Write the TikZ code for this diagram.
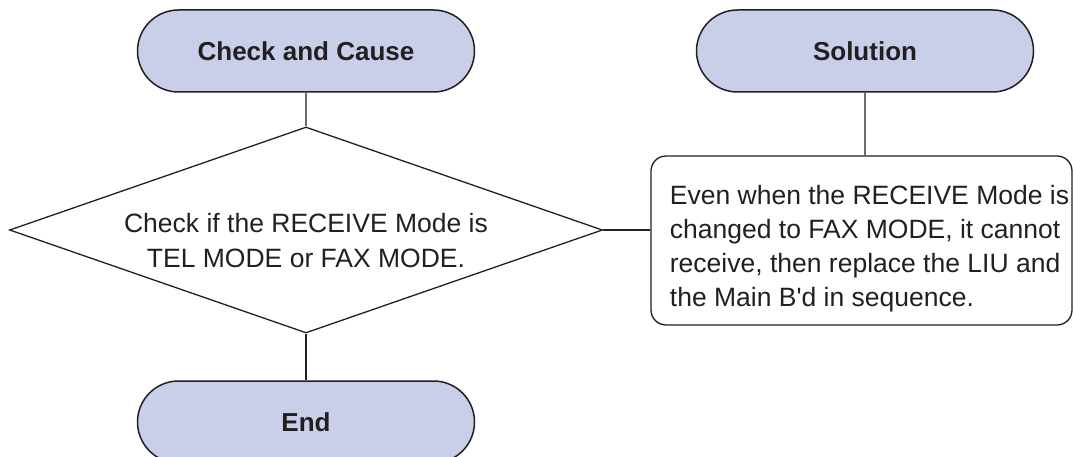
\documentclass[tikz,border=0pt]{standalone}
\usepackage{fontspec}
\setmainfont{Liberation Sans}
\usetikzlibrary{shapes.geometric,shapes.misc}
\definecolor{pill}{RGB}{201,206,233}
\definecolor{ink}{RGB}{35,31,32}
\tikzset{
  x=1pt,y=-1pt,
  every node/.style={text=ink},
  every label/.style={text=ink},
  pillbox/.style={rounded rectangle, draw=ink, line width=1.5pt, fill=pill,
    minimum width=337pt, minimum height=82pt, inner sep=0pt,
    font=\bfseries\fontsize{26}{30}\selectfont},
  decide/.style={diamond, draw=ink, line width=1.3pt, aspect=2.88,
    minimum width=593pt, minimum height=206pt, inner sep=0pt},
  decidetext/.style={align=center, inner sep=0pt, font=\fontsize{26.5}{35}\selectfont},
  notebox/.style={rectangle, rounded corners=15pt, draw=ink, line width=1.3pt,
    minimum width=421pt, minimum height=169pt, inner sep=0pt},
  notetext/.style={align=left, inner sep=0pt, font=\fontsize{26.5}{34}\selectfont},
  link/.style={draw=ink, line width=1.3pt}
}
\begin{document}
\begin{tikzpicture}
\useasboundingbox (0,0) rectangle (1073,457);
\clip (0,0) rectangle (1073,457);
\node[pillbox] (cc) at (306,51) {Check and Cause};
\node[pillbox] (sol) at (865,51) {Solution};
\node[decide, label={[decidetext, yshift=-10.5pt]center:Check if the RECEIVE Mode is\\TEL MODE or FAX MODE.}] (chk) at (306,230) {};
\node[pillbox] (end) at (306,422) {End};
\node[notebox, label={[notetext, xshift=8pt, yshift=-8pt]center:Even when the RECEIVE Mode is\\changed to FAX MODE, it cannot\\receive, then replace the LIU and\\the Main B\textquotesingle d in sequence.}] (note) at (861.5,240.5) {};
\draw[link] (cc) -- (chk);
\draw[link] (chk) -- (end);
\draw[link] (chk.east) -- (chk.east -| note.west);
\draw[link] (sol) -- (sol |- note.north);
\end{tikzpicture}
\end{document}
